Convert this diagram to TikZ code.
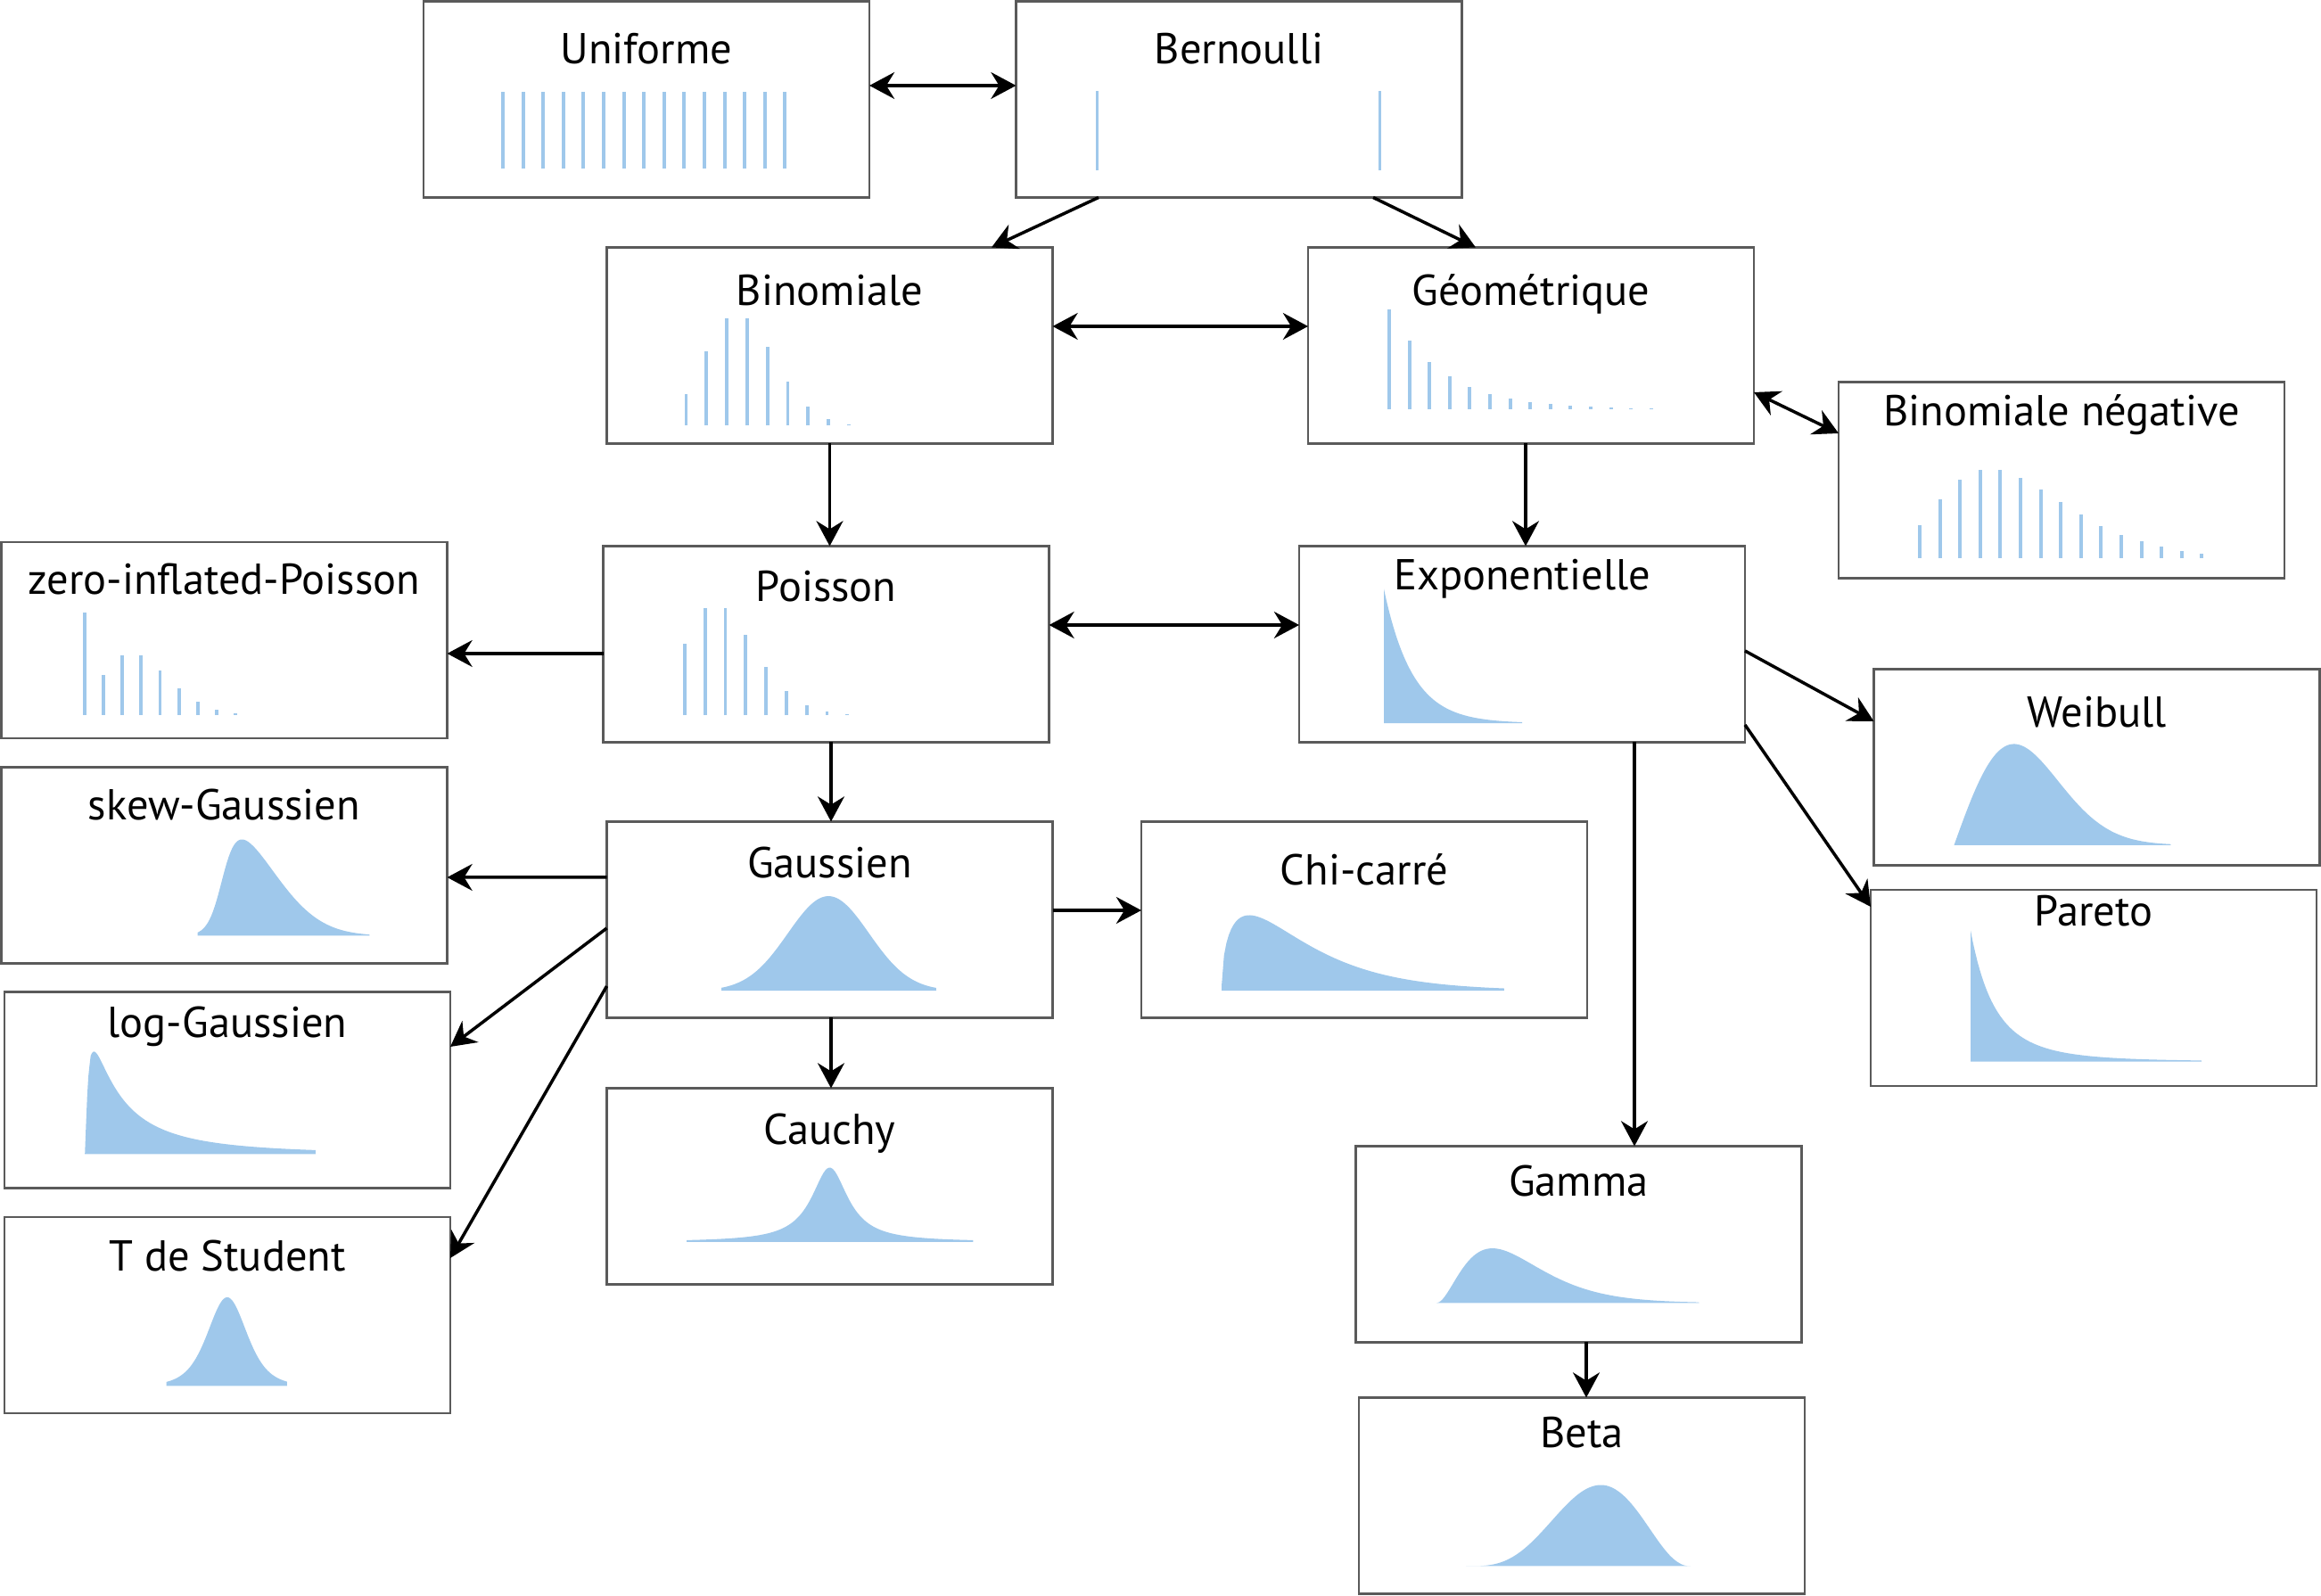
\documentclass[tikz,border=0pt]{standalone}
\usepackage{fontspec}
\setmainfont{PT Sans}
\usetikzlibrary{arrows.meta,calc}
\definecolor{distblue}{HTML}{9FC8EB}
\definecolor{boxgray}{HTML}{5A5A5A}

\tikzset{
  distbox/.style={draw=boxgray, line width=0.6pt, minimum width=5cm, minimum height=2.2cm, inner sep=0pt, outer sep=0pt},
  title/.style={anchor=base, inner sep=0pt, font=\fontsize{13.8}{16}\selectfont},
  bar/.style={distblue, line width=1.1pt},
  distfill/.style={fill=distblue},
  arr/.style={-{Stealth[length=8pt,width=8.5pt,inset=2.6pt]}, line width=1pt},
  dblarr/.style={{Stealth[length=8pt,width=8.5pt,inset=2.6pt]}-{Stealth[length=8pt,width=8.5pt,inset=2.6pt]}, line width=1pt}
}

\begin{document}
\begin{tikzpicture}
  \useasboundingbox (0,0) rectangle (26.03,17.90);

  % boxes
  \node[distbox] (unif) at (7.25,16.785) {};
  \node[distbox] (bern) at (13.895,16.785) {};
  \node[distbox] (binom) at (9.305,14.025) {};
  \node[distbox] (geom) at (17.17,14.025) {};
  \node[distbox] (negbin) at (23.12,12.515) {};
  \node[distbox] (zip) at (2.515,10.72) {};
  \node[distbox] (pois) at (9.265,10.675) {};
  \node[distbox] (expo) at (17.07,10.675) {};
  \node[distbox] (weib) at (23.515,9.295) {};
  \node[distbox] (skew) at (2.515,8.195) {};
  \node[distbox] (gauss) at (9.305,7.585) {};
  \node[distbox] (chi) at (15.30,7.585) {};
  \node[distbox] (pareto) at (23.48,6.82) {};
  \node[distbox] (lognorm) at (2.55,5.675) {};
  \node[distbox] (cauchy) at (9.305,4.595) {};
  \node[distbox] (gamma) at (17.705,3.945) {};
  \node[distbox] (student) at (2.55,3.15) {};
  \node[distbox] (beta) at (17.74,1.125) {};

  % discrete laws
  \begin{scope}[shift={(unif.south west)}]
    \foreach \i in {0,...,14}
      \draw[bar] ({0.89+0.226*\i},0.32) -- ++(0,0.86);
  \end{scope}
  \begin{scope}[shift={(bern.south west)}]
    \foreach \x in {0.91,4.08}
      \draw[bar] (\x,0.30) -- ++(0,0.89);
  \end{scope}
  \begin{scope}[shift={(binom.south west)}]
    \foreach \h [count=\i from 0] in {0.347,0.827,1.197,1.197,0.877,0.487,0.207,0.067,0.012}
      \draw[bar] ({0.89+0.228*\i},0.203) -- ++(0,\h);
  \end{scope}
  \begin{scope}[shift={(geom.south west)}]
    \foreach \i in {0,...,13}
      \draw[bar] ({0.91+0.226*\i},0.383) -- ++(0,{max(1.12*0.69^\i,0.008)});
  \end{scope}
  \begin{scope}[shift={(negbin.south west)}]
    \foreach \h [count=\i from 0] in {0.367,0.657,0.877,0.987,0.987,0.897,0.767,0.627,0.487,0.357,0.257,0.187,0.127,0.077,0.047}
      \draw[bar] ({0.91+0.226*\i},0.223) -- ++(0,\h);
  \end{scope}
  \begin{scope}[shift={(zip.south west)}]
    \foreach \h [count=\i from 0] in {1.143,0.447,0.667,0.667,0.497,0.297,0.147,0.057,0.017}
      \draw[bar] ({0.936+0.211*\i},0.263) -- ++(0,\h);
  \end{scope}
  \begin{scope}[shift={(pois.south west)}]
    \foreach \h [count=\i from 0] in {0.797,1.20,1.20,0.897,0.537,0.267,0.107,0.037,0.008}
      \draw[bar] ({0.914+0.228*\i},0.303) -- ++(0,\h);
  \end{scope}

  % continuous laws
  \begin{scope}[shift={(expo.south west)}]
    \fill[distfill] (0.95,0.213) -- plot[domain=0.95:2.50, samples=100] (\x,{0.213+1.507*exp(-(\x-0.95)/0.32)}) -- (2.50,0.213) -- cycle;
  \end{scope}
  \begin{scope}[shift={(weib.south west)}]
    \fill[distfill] (0.90,0.227) -- plot[domain=0.90:3.33, samples=100] (\x,{0.227+2.642*((\x-0.90)/0.95)*exp(-1*((\x-0.90)/0.95)^2)}) -- (3.33,0.227) -- cycle;
  \end{scope}
  \begin{scope}[shift={(pareto.south west)}]
    \fill[distfill] (1.12,0.274) -- plot[domain=1.12:3.71, samples=100] (\x,{0.274+1.47/(1+(\x-1.12)/1.1)^4}) -- (3.71,0.274) -- cycle;
  \end{scope}
  \begin{scope}[shift={(skew.south west)}]
    \fill[distfill] (2.20,0.31) -- plot[domain=2.20:4.13, samples=100] (\x,{0.31+1.247*exp(-0.5*((\x-2.475)/0.55)^2)/(1+exp(-6.8*(\x-2.475)/0.55))}) -- (4.13,0.31) -- cycle;
  \end{scope}
  \begin{scope}[shift={(gauss.south west)}]
    \fill[distfill] (1.285,0.304) -- plot[domain=1.285:3.695, samples=100] (\x,{0.304+1.06*exp(-0.5*((\x-2.486)/0.455)^2)}) -- (3.695,0.304) -- cycle;
  \end{scope}
  \begin{scope}[shift={(chi.south west)}]
    \fill[distfill] (0.90,0.303) -- plot[domain=0.9005:4.068, samples=120] (\x,{0.303+0.847*sqrt((\x-0.9)/0.31)*exp(-0.5*((\x-0.9)/0.31-1))}) -- (4.068,0.303) -- cycle;
  \end{scope}
  \begin{scope}[shift={(lognorm.south west)}]
    \fill[distfill] (0.90,0.382) -- plot[domain=0.902:3.49, samples=200] (\x,{0.382+0.5254*exp(-1*(ln((\x-0.9)/0.506))^2/3.125)/((\x-0.9)/0.506)}) -- (3.49,0.382) -- cycle;
  \end{scope}
  \begin{scope}[shift={(cauchy.south west)}]
    \fill[distfill] (0.895,0.476) -- plot[domain=0.895:4.108, samples=150] (\x,{0.476+0.834/(1+((\x-2.5)/0.25)^2)}) -- (4.108,0.476) -- cycle;
  \end{scope}
  \begin{scope}[shift={(student.south west)}]
    \fill[distfill] (1.817,0.305) -- plot[domain=1.817:3.17, samples=100] (\x,{0.305+0.995/(1+((\x-2.498)/0.228)^2/5)^3}) -- (3.17,0.305) -- cycle;
  \end{scope}
  \begin{scope}[shift={(gamma.south west)}]
    \fill[distfill] (0.906,0.441) -- plot[domain=0.906:3.85, samples=100] (\x,{0.441+0.613*((\x-0.906)/0.626)^2*exp(2-(\x-0.906)/0.313)}) -- (3.85,0.441) -- cycle;
  \end{scope}
  \begin{scope}[shift={(beta.south west)}]
    \fill[distfill] (1.20,0.31) -- plot[domain=1.202:3.718, samples=100] (\x,{0.31+0.91*(((\x-1.20)/2.52)/0.6)^3.6*((1-(\x-1.20)/2.52)/0.4)^2.4}) -- (3.72,0.31) -- cycle;
  \end{scope}

  % titles
  \node[title] (unif-t) at ([yshift=-0.70cm]unif.north) {Uniforme};
  \node[title] (bern-t) at ([yshift=-0.70cm]bern.north) {Bernoulli};
  \node[title] (binom-t) at ([yshift=-0.65cm]binom.north) {Binomiale};
  \node[title] (geom-t) at ([yshift=-0.65cm]geom.north) {Géométrique};
  \node[title] (negbin-t) at ([yshift=-0.49cm]negbin.north) {Binomiale négative};
  \node[title] (zip-t) at ([yshift=-0.59cm]zip.north) {zero-inflated-Poisson};
  \node[title] (pois-t) at ([yshift=-0.62cm]pois.north) {Poisson};
  \node[title] (expo-t) at ([yshift=-0.49cm]expo.north) {Exponentielle};
  \node[title] (weib-t) at ([yshift=-0.65cm]weib.north) {Weibull};
  \node[title] (skew-t) at ([yshift=-0.59cm]skew.north) {skew-Gaussien};
  \node[title] (gauss-t) at ([yshift=-0.63cm]gauss.north) {Gaussien};
  \node[title] (chi-t) at ([yshift=-0.71cm]chi.north) {Chi-carré};
  \node[title] (pareto-t) at ([yshift=-0.41cm]pareto.north) {Pareto};
  \node[title] (lognorm-t) at ([yshift=-0.51cm]lognorm.north) {log-Gaussien};
  \node[title] (cauchy-t) at ([yshift=-0.63cm]cauchy.north) {Cauchy};
  \node[title] (gamma-t) at ([yshift=-0.565cm]gamma.north) {Gamma};
  \node[title] (student-t) at ([yshift=-0.61cm]student.north) {T de Student};
  \node[title] (beta-t) at ([yshift=-0.56cm]beta.north) {Beta};

  % links
  \draw[dblarr] ([yshift=0.155cm]unif.east) -- ([yshift=0.155cm]bern.west);
  \draw[arr] ([xshift=-1.575cm]bern.south) -- ([xshift=1.815cm]binom.north);
  \draw[arr] ([xshift=1.505cm]bern.south) -- ([xshift=-0.62cm]geom.north);
  \draw[dblarr] ([yshift=0.215cm]binom.east) -- ([yshift=0.215cm]geom.west);
  \draw[dblarr] ([yshift=-0.525cm]geom.east) -- ([yshift=0.525cm]negbin.west);
  \draw[arr] (binom.south) -- (binom.south |- pois.north);
  \draw[arr] ([xshift=-0.06cm]geom.south) -- ([xshift=-0.06cm]geom.south |- expo.north);
  \draw[arr] ([yshift=-0.105cm]pois.west) -- ([yshift=-0.15cm]zip.east);
  \draw[dblarr] ([yshift=0.215cm]pois.east) -- ([yshift=0.215cm]expo.west);
  \draw[arr] ([xshift=0.055cm]pois.south) -- ([xshift=0.055cm]pois.south |- gauss.north);
  \draw[arr] ([yshift=-0.075cm]expo.east) -- ([yshift=0.515cm]weib.west);
  \draw[arr] ([yshift=-0.905cm]expo.east) -- ([yshift=0.91cm]pareto.west);
  \draw[arr] ([xshift=1.26cm]expo.south) -- ([xshift=1.26cm]expo.south |- gamma.north);
  \draw[arr] ([yshift=0.475cm]gauss.west) -- ([yshift=-0.135cm]skew.east);
  \draw[arr] ([yshift=0.105cm]gauss.east) -- ([yshift=0.105cm]chi.west);
  \draw[arr] ([yshift=-0.095cm]gauss.west) -- ([yshift=0.485cm]lognorm.east);
  \draw[arr] ([yshift=-0.745cm]gauss.west) -- ([yshift=0.64cm]student.east);
  \draw[arr] ([xshift=0.015cm]gauss.south) -- ([xshift=0.015cm]gauss.south |- cauchy.north);
  \draw[arr] ([xshift=0.085cm]gamma.south) -- ([xshift=0.085cm]gamma.south |- beta.north);
\end{tikzpicture}
\end{document}
